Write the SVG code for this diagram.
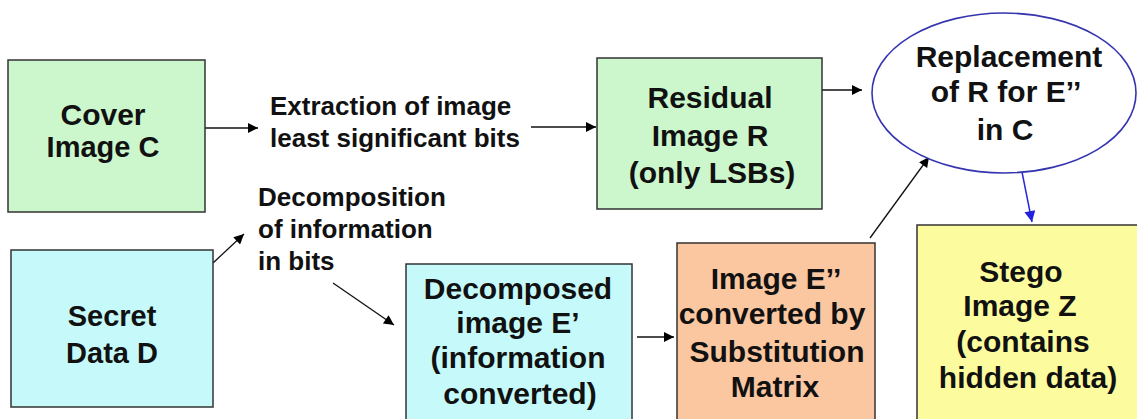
<svg xmlns="http://www.w3.org/2000/svg" width="1137" height="419" viewBox="0 0 1137 419">
  <style>
    .box { stroke: #333333; stroke-width: 1.5; }
    .green { fill: #ccf7cc; }
    .cyan { fill: #c6fafa; }
    .orange { fill: #fac7a0; }
    .yellow { fill: #fcfc9e; }
    .t { font-family: "Liberation Sans", Arial, sans-serif; font-weight: bold; fill: #111111; }
    .bt { font-size: 30px; text-anchor: middle; }
    .lt { font-size: 26px; }
    .conn { stroke: #111111; stroke-width: 1.3; fill: none; }
    .blue { stroke: #2a2ad8; stroke-width: 1.5; fill: none; }
  </style>
  <defs>
    <marker id="ah" viewBox="0 0 10 10" refX="10" refY="5" markerWidth="12" markerHeight="10" markerUnits="userSpaceOnUse" orient="auto">
      <path d="M0,0 L10,5 L0,10 z" fill="#000000"/>
    </marker>
    <marker id="ahb" viewBox="0 0 10 10" refX="10" refY="5" markerWidth="12" markerHeight="11" markerUnits="userSpaceOnUse" orient="auto">
      <path d="M0,0 L10,5 L0,10 z" fill="#2222dd"/>
    </marker>
  </defs>
  <rect width="1137" height="419" fill="#ffffff"/>

  <g id="connectors">
    <line class="conn" x1="205" y1="128" x2="258" y2="128" marker-end="url(#ah)"/>
    <line class="conn" x1="531" y1="127" x2="596" y2="127" marker-end="url(#ah)"/>
    <line class="conn" x1="822" y1="90" x2="862" y2="90" marker-end="url(#ah)"/>
    <line class="conn" x1="213" y1="263" x2="244" y2="234" marker-end="url(#ah)"/>
    <line class="conn" x1="333" y1="283" x2="394" y2="325" marker-end="url(#ah)"/>
    <line class="conn" x1="637" y1="337" x2="674" y2="337" marker-end="url(#ah)"/>
    <line class="conn" x1="870" y1="238" x2="929" y2="157" marker-end="url(#ah)"/>
    <line class="blue" x1="1022" y1="172" x2="1032" y2="222" marker-end="url(#ahb)"/>
  </g>

  <g id="cover">
    <rect class="box green" x="8" y="60" width="197" height="152"/>
    <text class="t bt" x="103" y="125" font-size="29">Cover</text>
    <text class="t bt" x="103" y="157" style="font-size:29px">Image C</text>
  </g>

  <g id="extraction-label">
    <text class="t lt" x="270" y="115">Extraction of image</text>
    <text class="t lt" x="270" y="147">least significant bits</text>
  </g>

  <g id="residual">
    <rect class="box green" x="597" y="58" width="225" height="151"/>
    <text class="t bt" x="710" y="108">Residual</text>
    <text class="t bt" x="710" y="146">Image R</text>
    <text class="t bt" x="712" y="183">(only LSBs)</text>
  </g>

  <g id="replacement">
    <ellipse cx="1004" cy="93" rx="132" ry="80" fill="#ffffff" stroke="#3535b0" stroke-width="1.6"/>
    <text class="t bt" x="1009" y="67">Replacement</text>
    <text class="t bt" x="1006" y="102">of R for E’’</text>
    <text class="t bt" x="1005" y="140">in C</text>
  </g>

  <g id="decomposition-label">
    <text class="t lt" x="258" y="206">Decomposition</text>
    <text class="t lt" x="258" y="238">of information</text>
    <text class="t lt" x="258" y="270">in bits</text>
  </g>

  <g id="secret">
    <rect class="box cyan" x="11" y="250" width="202" height="157"/>
    <text class="t bt" x="112" y="326" style="font-size:29px">Secret</text>
    <text class="t bt" x="112" y="363" style="font-size:29px">Data D</text>
  </g>

  <g id="decomposed">
    <rect class="box cyan" x="406" y="264" width="226" height="170"/>
    <text class="t bt" x="518" y="299">Decomposed</text>
    <text class="t bt" x="518" y="333">image E’</text>
    <text class="t bt" x="518" y="368">(information</text>
    <text class="t bt" x="520" y="404">converted)</text>
  </g>

  <g id="substitution">
    <rect class="box orange" x="677" y="243" width="198" height="190"/>
    <text class="t bt" x="776" y="289">Image E’’</text>
    <text class="t bt" x="772" y="324">converted by</text>
    <text class="t bt" x="777" y="362">Substitution</text>
    <text class="t bt" x="775" y="397">Matrix</text>
  </g>

  <g id="stego">
    <rect class="box yellow" x="917" y="225" width="230" height="210"/>
    <text class="t bt" x="1021" y="282">Stego</text>
    <text class="t bt" x="1020" y="316">Image Z</text>
    <text class="t bt" x="1023" y="352">(contains</text>
    <text class="t bt" x="1028" y="388">hidden data)</text>
  </g>
</svg>
